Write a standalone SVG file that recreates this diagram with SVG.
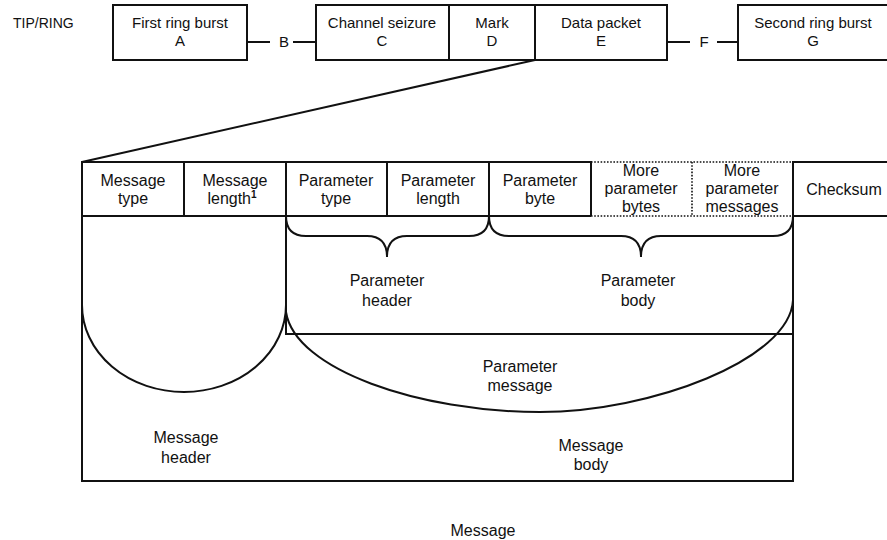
<svg xmlns="http://www.w3.org/2000/svg" width="887" height="540" viewBox="0 0 887 540">
<style>
text{font-family:"Liberation Sans",Arial,sans-serif;fill:#111;text-anchor:middle}
.t15{font-size:15px}
.t16{font-size:16px}
.ln{fill:none;stroke:#111;stroke-width:2}
.dot{fill:none;stroke:#111;stroke-width:1.6;stroke-dasharray:1.6 1.6}
.sup{font-size:10px;font-weight:bold}
</style>
<rect width="887" height="540" fill="#fff"/>
<text x="13" y="28" style="font-size:14px;text-anchor:start">TIP/RING</text>
<g id="node-A"><rect class="ln" x="113" y="5" width="134" height="55"/><text class="t15" x="180" y="28">First ring burst</text><text class="t15" x="180" y="46">A</text></g>
<g id="node-C"><rect class="ln" x="316" y="5" width="133" height="55"/><text class="t15" x="382" y="28">Channel seizure</text><text class="t15" x="382" y="46">C</text></g>
<g id="node-D"><rect class="ln" x="449" y="5" width="86" height="55"/><text class="t15" x="492" y="28">Mark</text><text class="t15" x="492" y="46">D</text></g>
<g id="node-E"><rect class="ln" x="535" y="5" width="132" height="55"/><text class="t15" x="601" y="28">Data packet</text><text class="t15" x="601" y="46">E</text></g>
<g id="node-G"><rect class="ln" x="738" y="5" width="150" height="55"/><text class="t15" x="813" y="28">Second ring burst</text><text class="t15" x="813" y="46">G</text></g>
<g id="connectors">
<line class="ln" x1="247" y1="42" x2="270" y2="42"/><text class="t15" x="284" y="47">B</text><line class="ln" x1="293" y1="42" x2="316" y2="42"/>
<line class="ln" x1="667" y1="42" x2="690" y2="42"/><text class="t15" x="704" y="47">F</text><line class="ln" x1="717" y1="42" x2="738" y2="42"/>
<line class="ln" x1="535" y1="60" x2="82" y2="162"/>
</g>
<g id="table">
<path class="ln" d="M591,216 L82,216 L82,162 L591,162 L591,216"/>
<line class="ln" x1="184" y1="162" x2="184" y2="216"/>
<line class="ln" x1="286" y1="162" x2="286" y2="216"/>
<line class="ln" x1="387" y1="162" x2="387" y2="216"/>
<line class="ln" x1="489" y1="162" x2="489" y2="216"/>
<line class="dot" x1="591" y1="162" x2="793" y2="162"/>
<line class="dot" x1="591" y1="216" x2="793" y2="216"/>
<line class="dot" x1="692" y1="162" x2="692" y2="216"/>
<rect class="ln" x="793" y="162" width="100" height="54"/>
<text class="t16" x="133" y="186">Message</text><text class="t16" x="133" y="204">type</text>
<text class="t16" x="235" y="186">Message</text><text class="t16" x="232" y="204">length<tspan class="sup" dy="-6">1</tspan></text>
<text class="t16" x="336" y="186">Parameter</text><text class="t16" x="336" y="204">type</text>
<text class="t16" x="438" y="186">Parameter</text><text class="t16" x="438" y="204">length</text>
<text class="t16" x="540" y="186">Parameter</text><text class="t16" x="540" y="204">byte</text>
<text class="t16" x="641" y="176">More</text><text class="t16" x="641" y="194">parameter</text><text class="t16" x="641" y="212">bytes</text>
<text class="t16" x="742" y="176">More</text><text class="t16" x="742" y="194">parameter</text><text class="t16" x="742" y="212">messages</text>
<text class="t16" x="844" y="195">Checksum</text>
</g>
<g id="message">
<path class="ln" d="M82,216 L82,481 L793,481 L793,216"/>
<path class="ln" d="M286,216 L286,334 L793,334"/>
<path class="ln" d="M286,216 Q286,236 306,236 L367,236 Q387,236 387,257 Q387,236 407,236 L469,236 Q489,236 489,216"/>
<path class="ln" d="M489,216 Q489,236 509,236 L621,236 Q641,236 641,257 Q641,236 661,236 L773,236 Q793,236 793,216"/>
<path class="ln" d="M82,305 A102,87 0 0 0 286,305"/>
<path class="ln" d="M286,312 C295,370 420,412 540,412 C650,412 790,360 793,300"/>
<text class="t16" x="387" y="286">Parameter</text><text class="t16" x="387" y="306">header</text>
<text class="t16" x="638" y="286">Parameter</text><text class="t16" x="638" y="306">body</text>
<text class="t16" x="520" y="372">Parameter</text><text class="t16" x="520" y="391">message</text>
<text class="t16" x="186" y="443">Message</text><text class="t16" x="186" y="463">header</text>
<text class="t16" x="591" y="451">Message</text><text class="t16" x="591" y="470">body</text>
<text class="t16" x="483" y="536">Message</text>
</g>
</svg>
